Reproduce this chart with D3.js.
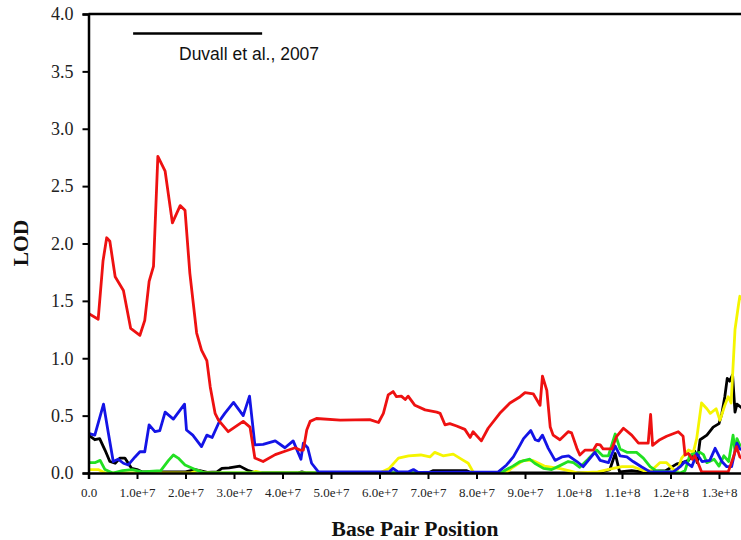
<!DOCTYPE html>
<html>
<head>
<meta charset="utf-8">
<script src="https://cdn.jsdelivr.net/npm/d3@7"></script>
<style>
  html, body { margin: 0; padding: 0; background: #fff; overflow: hidden; }
  svg { display: block; }
</style>
</head>
<body>
<svg id="chart" width="741" height="540"></svg>
<script>
// positions in units of 1e7 bp, values are LOD
const redSeries = [[0.0,1.39],[0.2,1.34],[0.3,1.85],[0.375,2.05],[0.44,2.02],[0.55,1.71],[0.72,1.59],[0.87,1.26],[1.06,1.20],[1.16,1.33],[1.25,1.67],[1.34,1.80],[1.43,2.76],[1.58,2.63],[1.73,2.18],[1.89,2.33],[1.99,2.29],[2.09,1.74],[2.23,1.22],[2.33,1.07],[2.44,0.98],[2.51,0.75],[2.61,0.52],[2.68,0.46],[2.88,0.36],[3.19,0.45],[3.33,0.40],[3.43,0.13],[3.6,0.10],[3.85,0.16],[4.05,0.19],[4.26,0.22],[4.36,0.20],[4.43,0.20],[4.5,0.375],[4.57,0.45],[4.7,0.475],[5.19,0.46],[5.8,0.465],[5.98,0.44],[6.08,0.52],[6.18,0.68],[6.28,0.71],[6.35,0.665],[6.45,0.67],[6.53,0.64],[6.59,0.67],[6.73,0.59],[6.94,0.55],[7.18,0.53],[7.25,0.52],[7.35,0.42],[7.45,0.43],[7.59,0.41],[7.76,0.38],[7.87,0.31],[7.93,0.36],[8.1,0.28],[8.24,0.39],[8.48,0.52],[8.69,0.61],[8.9,0.665],[9.0,0.70],[9.17,0.69],[9.31,0.59],[9.36,0.845],[9.45,0.72],[9.52,0.40],[9.58,0.33],[9.72,0.29],[9.89,0.36],[9.96,0.35],[10.07,0.215],[10.13,0.157],[10.24,0.20],[10.41,0.20],[10.48,0.25],[10.55,0.245],[10.61,0.21],[10.79,0.21],[10.89,0.32],[11.03,0.39],[11.2,0.33],[11.34,0.26],[11.54,0.26],[11.59,0.51],[11.63,0.24],[11.78,0.29],[11.92,0.32],[12.16,0.36],[12.26,0.32],[12.3,0.157],[12.37,0.17],[12.45,0.12],[12.5,0.15],[12.57,0.085],[12.64,0.01],[13.19,0.01],[13.29,0.13],[13.36,0.23],[13.43,0.14],[13.5,0.12]];

const blueSeries = [[0,0.346],[0.13,0.33],[0.31,0.60],[0.41,0.346],[0.51,0.10],[0.61,0.12],[0.72,0.085],[0.82,0.07],[0.96,0.14],[1.06,0.185],[1.16,0.185],[1.25,0.42],[1.37,0.36],[1.47,0.37],[1.58,0.53],[1.75,0.47],[1.98,0.60],[2.02,0.375],[2.15,0.33],[2.33,0.23],[2.44,0.33],[2.55,0.31],[2.71,0.46],[2.81,0.52],[2.99,0.615],[3.19,0.50],[3.32,0.67],[3.43,0.245],[3.6,0.25],[3.85,0.28],[4.05,0.22],[4.22,0.28],[4.38,0.12],[4.43,0.26],[4.52,0.22],[4.6,0.085],[4.74,0.01],[6.2,0.01],[6.28,0.04],[6.38,0.01],[6.6,0.01],[6.7,0.03],[6.8,0.005],[8.45,0.01],[8.62,0.07],[8.76,0.14],[8.9,0.245],[8.97,0.30],[9.12,0.37],[9.21,0.29],[9.28,0.28],[9.36,0.33],[9.48,0.215],[9.62,0.11],[9.76,0.14],[9.9,0.15],[10.07,0.10],[10.2,0.055],[10.44,0.18],[10.55,0.11],[10.72,0.09],[10.86,0.235],[10.96,0.15],[11.1,0.14],[11.23,0.10],[11.4,0.055],[11.58,0.01],[12.06,0.01],[12.2,0.055],[12.3,0.10],[12.44,0.055],[12.54,0.17],[12.65,0.10],[12.81,0.11],[12.92,0.215],[13.06,0.10],[13.16,0.055],[13.26,0.055],[13.33,0.19],[13.37,0.26],[13.43,0.21],[13.5,0.2]];

const blackSeries = [[0,0.33],[0.13,0.29],[0.23,0.30],[0.34,0.20],[0.44,0.10],[0.55,0.085],[0.65,0.13],[0.75,0.13],[0.89,0.04],[1.0,0.03],[1.1,0.01],[2.0,0.01],[2.2,0.03],[2.45,0.005],[2.65,0.01],[2.75,0.04],[2.9,0.045],[3.12,0.06],[3.3,0.02],[3.45,0.0],[4.3,0.0],[4.4,0.01],[4.5,0.0],[7.0,0.0],[7.1,0.02],[7.8,0.02],[7.9,0.0],[10.5,0.0],[10.75,0.03],[10.86,0.17],[10.95,0.01],[11.2,0.02],[11.4,0.01],[11.9,0.02],[12.13,0.08],[12.25,0.09],[12.37,0.11],[12.5,0.19],[12.55,0.09],[12.61,0.29],[12.75,0.33],[12.88,0.40],[13.0,0.43],[13.06,0.52],[13.12,0.665],[13.17,0.825],[13.22,0.80],[13.28,0.855],[13.33,0.53],[13.37,0.60],[13.43,0.58],[13.5,0.56]];

const greenSeries = [[0,0.09],[0.13,0.09],[0.24,0.11],[0.34,0.03],[0.5,0.0],[0.7,0.02],[0.9,0.03],[1.1,0.01],[1.49,0.02],[1.65,0.11],[1.75,0.157],[1.85,0.13],[1.99,0.07],[2.2,0.03],[2.4,0.0],[8.5,0.0],[8.62,0.03],[8.75,0.06],[8.9,0.10],[9.1,0.12],[9.2,0.085],[9.38,0.04],[9.55,0.03],[9.7,0.06],[9.89,0.10],[10.0,0.09],[10.13,0.05],[10.3,0.12],[10.48,0.20],[10.6,0.15],[10.72,0.15],[10.86,0.34],[10.96,0.21],[11.1,0.18],[11.3,0.18],[11.44,0.13],[11.58,0.055],[11.7,0.02],[12.2,0.0],[12.3,0.02],[12.4,0.157],[12.5,0.17],[12.61,0.18],[12.68,0.16],[12.75,0.09],[12.9,0.12],[13.0,0.06],[13.1,0.15],[13.2,0.10],[13.29,0.33],[13.33,0.19],[13.37,0.30],[13.43,0.24],[13.5,0.25]];

const yellowSeries = [[0,0.03],[0.2,0.03],[0.35,0.0],[2.1,0.0],[2.25,0.02],[2.4,0.0],[3.35,0.0],[3.45,0.015],[3.6,0.0],[6.0,0.0],[6.2,0.04],[6.39,0.13],[6.6,0.15],[6.85,0.157],[7.04,0.14],[7.14,0.18],[7.31,0.15],[7.52,0.165],[7.73,0.11],[7.83,0.085],[7.93,0.01],[8.0,0.0],[8.6,0.0],[8.75,0.05],[8.97,0.11],[9.15,0.11],[9.4,0.06],[9.7,0.04],[9.9,0.02],[10.1,0.0],[10.5,0.01],[10.82,0.04],[11.0,0.055],[11.23,0.055],[11.45,0.02],[11.6,0.02],[11.78,0.09],[11.92,0.09],[12.06,0.03],[12.15,0.03],[12.23,0.13],[12.37,0.20],[12.47,0.18],[12.54,0.30],[12.64,0.61],[12.75,0.56],[12.82,0.52],[12.94,0.56],[13.02,0.46],[13.12,0.59],[13.19,0.665],[13.25,0.61],[13.33,1.25],[13.4,1.46],[13.43,1.54],[13.5,1.5]];

const yTicks = [0, 0.5, 1.0, 1.5, 2.0, 2.5, 3.0, 3.5, 4.0];
const xTicks = [0, 1e7, 2e7, 3e7, 4e7, 5e7, 6e7, 7e7, 8e7, 9e7, 1e8, 1.1e8, 1.2e8, 1.3e8];
const annotationSpan = [0.92e7, 3.58e7];
const annotationLod = 3.83;
const annotationText = "Duvall et al., 2007";
const xTitle = "Base Pair Position";
const yTitle = "LOD";

const svg = d3.select("#chart");
const x0 = 88.5, y0 = 473, yTop = 14;
const pxPer1e7 = 48.5;

const x = d3.scaleLinear().domain([0, 1.5e8]).range([x0, x0 + 15 * pxPer1e7]);
const y = d3.scaleLinear().domain([0, 4]).range([y0, yTop]);

svg.append("defs").append("clipPath").attr("id", "clip")
  .append("rect").attr("x", x0).attr("y", 0).attr("width", 741 - x0).attr("height", y0 + 1);

const line = d3.line().x(d => x(d[0] * 1e7)).y(d => y(d[1]));
const series = [
  {data: blackSeries, color: "#000000"},
  {data: yellowSeries, color: "#f5f500"},
  {data: greenSeries, color: "#22e022"},
  {data: blueSeries, color: "#1414e6"},
  {data: redSeries, color: "#ee1111"}
];
const lines = svg.append("g").attr("clip-path", "url(#clip)");
series.forEach(s => {
  lines.append("path").datum(s.data).attr("d", line)
    .attr("fill", "none").attr("stroke", s.color)
    .attr("stroke-width", 2.8).attr("stroke-linejoin", "round");
});

// axes
const yAxis = d3.axisLeft(y).tickValues(yTicks).tickSize(6).tickPadding(9)
  .tickFormat(d3.format(".1f"));
const gy = svg.append("g").attr("transform", `translate(${x0},0)`).call(yAxis);
gy.select(".domain").attr("stroke-width", 2.5);
gy.selectAll(".tick line").attr("stroke-width", 2);
gy.selectAll(".tick text").attr("font-family", "Liberation Serif, Times New Roman, serif")
  .attr("font-size", 18).attr("fill", "#222");

const xFmt = d => d === 0 ? "0.0" : d3.format(".1e")(d);
const xAxis = d3.axisBottom(x).tickValues(xTicks).tickSize(6).tickPadding(9).tickFormat(xFmt);
const gx = svg.append("g").attr("transform", `translate(0,${y0})`).call(xAxis);
gx.select(".domain").attr("stroke-width", 2.5);
gx.selectAll(".tick line").attr("stroke-width", 2);
gx.selectAll(".tick text").attr("font-family", "Liberation Serif, Times New Roman, serif")
  .attr("font-size", 13).attr("fill", "#222");

// top border
svg.append("line").attr("x1", x0).attr("x2", 741).attr("y1", yTop).attr("y2", yTop)
  .attr("stroke", "#000").attr("stroke-width", 2.5);

// annotation
svg.append("line").attr("x1", x(annotationSpan[0])).attr("x2", x(annotationSpan[1]))
  .attr("y1", y(annotationLod)).attr("y2", y(annotationLod))
  .attr("stroke", "#000").attr("stroke-width", 2.5);
svg.append("text").attr("x", 179).attr("y", 60)
  .attr("font-family", "Liberation Sans, Arial, sans-serif").attr("font-size", 17.5)
  .attr("fill", "#111").text(annotationText);

// titles
svg.append("text").attr("x", 415).attr("y", 536).attr("text-anchor", "middle")
  .attr("font-family", "Liberation Serif, Times New Roman, serif").attr("font-weight", "bold")
  .attr("font-size", 21.5).attr("fill", "#111").text(xTitle);
svg.append("text").attr("transform", "translate(28,243) rotate(-90)").attr("text-anchor", "middle")
  .attr("font-family", "Liberation Serif, Times New Roman, serif").attr("font-weight", "bold")
  .attr("font-size", 21.5).attr("fill", "#111").text(yTitle);
</script>
</body>
</html>
